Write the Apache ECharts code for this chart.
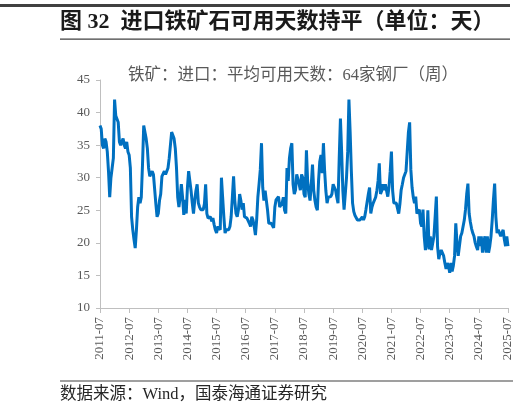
<!DOCTYPE html>
<html>
<head>
<meta charset="utf-8">
<script src="https://cdn.jsdelivr.net/npm/echarts@6/dist/echarts.min.js"></script>
<style>
  html, body { margin: 0; padding: 0; background: #fff; }
  #chart { width: 524px; height: 412px; }
</style>
</head>
<body>
<div id="chart"></div>
<script>
// 铁矿：进口：平均可用天数：64家钢厂（周），按半月读取，每组为当年7月至次年6月
const startYear = 2011;
const stepMonths = 0.5;
const y2011 = [38, 37.5, 35, 34.5, 36, 35.5, 34, 31, 27, 30, 31.5, 33, 42, 39.5, 39, 38.5, 35.5, 35, 35, 36, 35, 34.5, 35.5, 34];
const y2012 = [33.5, 31.5, 24, 22, 20.5, 19.2, 22, 25.5, 27, 26.1, 27, 32, 38, 37.8, 36, 34.5, 31.5, 30.2, 30.5, 31, 30.5, 30.2, 26, 24];
const y2013 = [24.5, 26.5, 27.5, 30.2, 30.2, 31, 30.5, 30.2, 31.5, 33, 35, 37, 37, 36, 34.5, 31.5, 27, 25.5, 27, 29, 27, 24.3, 26.6, 24.5];
const y2014 = [28.5, 31, 29.5, 28, 26.1, 24.5, 26.5, 28, 29, 26.1, 25.5, 25.1, 25.1, 25.1, 26, 29, 24.5, 23.8, 24, 24, 23.3, 23.8, 22.8, 22];
const y2015 = [21.5, 22.5, 22.3, 22, 30, 27, 24, 21.5, 22, 22, 22, 22.5, 24, 27, 30.2, 26.5, 24.5, 24, 25.1, 27.5, 26.5, 25.1, 26.1, 24];
const y2016 = [23.8, 23.8, 24, 23, 22.5, 24, 23.5, 22.5, 21.2, 23.5, 27, 29, 31.2, 35.3, 28.5, 26.5, 28, 26.5, 25, 23, 23, 23, 22.8, 22.3];
const y2017 = [25.5, 26.6, 26.8, 27.1, 25.5, 25.5, 26.1, 27, 25, 24.5, 31.5, 29.5, 33, 34.5, 35.3, 29, 27.5, 28.1, 30.5, 30.5, 29, 28.1, 30.5, 30];
const y2018 = [27.5, 27, 34.2, 29.5, 27.5, 26.5, 29, 32, 28.1, 26.5, 25.5, 25, 29.6, 32.5, 33.5, 30.7, 35.3, 31, 28, 26.1, 27, 27.1, 27.1, 27.5];
const y2019 = [29, 28.5, 28.1, 27, 26.1, 33, 39.1, 34, 28, 25.1, 27.5, 30, 34, 42, 37, 31, 26.1, 24.8, 24.2, 24, 23.5, 23.8, 23.5, 23.3];
const y2020 = [24, 23.5, 24, 25.1, 25.1, 27.5, 28.5, 24.5, 25.5, 26.1, 26.1, 27, 28, 29.5, 32.2, 27.5, 28, 29, 28.1, 29, 28, 27.1, 28.6, 31];
const y2021 = [34, 28, 26.1, 26.1, 26.1, 26.1, 24.5, 26, 28.1, 29, 30, 30.2, 31, 34, 37, 38.5, 31.2, 28.5, 27, 26.1, 27.1, 24.5, 24.5, 25.1];
const y2022 = [23, 22.5, 25.1, 21, 18.9, 20, 25, 19, 21, 18.9, 19, 21, 24, 27.1, 19.4, 17.5, 18.5, 18.9, 18.9, 18, 16.9, 16, 16.9, 16.5];
const y2023 = [15.4, 16.9, 15.6, 16.5, 18, 23, 20, 18, 19.5, 21, 21.5, 22.5, 23.5, 25.1, 27.5, 29.1, 24.5, 23.2, 22.2, 21.5, 21, 20, 19.4, 18.9];
const y2024 = [21, 19.5, 21, 18.5, 20, 21, 18.5, 21, 18.5, 19.5, 21, 23.5, 26.6, 29.1, 24, 21.5, 22, 22, 21, 21.5, 22, 20.5, 19.5, 21, 19.5];
const yTicks = [10, 15, 20, 25, 30, 35, 40, 45];

const seriesName = '铁矿：进口：平均可用天数：64家钢厂（周）';
const values = [].concat(y2011, y2012, y2013, y2014, y2015, y2016, y2017, y2018,
  y2019, y2020, y2021, y2022, y2023, y2024);
const points = values.map((v, i) => [i * stepMonths, v]);

const chart = echarts.init(document.getElementById('chart'));
const serif = '"Liberation Serif", "Times New Roman", serif';
const cjk = '"Liberation Serif", "Noto Sans CJK SC", sans-serif';

const option = {
  backgroundColor: '#fff',
  animation: false,
  grid: { left: 100, right: 16, top: 80, bottom: 104 },
  legend: {
    data: [seriesName],
    left: 117,
    top: 62,
    itemWidth: 0,
    itemHeight: 0,
    textStyle: { fontFamily: cjk, fontSize: 16.5, color: '#595959' }
  },
  xAxis: {
    type: 'value',
    min: 0,
    max: 168,
    interval: 12,
    axisLine: { lineStyle: { color: '#bfbfbf' } },
    axisTick: { show: true, length: 5, lineStyle: { color: '#bfbfbf' } },
    splitLine: { show: false },
    axisLabel: {
      rotate: 90,
      margin: 9,
      fontFamily: serif,
      fontSize: 13,
      color: '#595959',
      formatter: v => (startYear + v / 12) + '-07'
    }
  },
  yAxis: {
    type: 'value',
    min: yTicks[0],
    max: yTicks[yTicks.length - 1],
    interval: 5,
    axisLine: { show: true, lineStyle: { color: '#bfbfbf' } },
    axisTick: { show: true, length: 4, lineStyle: { color: '#bfbfbf' } },
    splitLine: { show: false },
    axisLabel: { margin: 10, fontFamily: serif, fontSize: 13, color: '#595959' }
  },
  series: [
    {
      name: seriesName,
      type: 'line',
      data: points,
      showSymbol: false,
      lineStyle: { width: 3, color: '#0070c0' },
      itemStyle: { color: '#0070c0' }
    }
  ],
  graphic: [
    { type: 'rect', shape: { x: 0, y: 4, width: 510, height: 3 }, style: { fill: '#404040' } },
    {
      type: 'text', left: 60, top: 11,
      style: {
        text: '图 32  进口铁矿石可用天数持平（单位：天）',
        font: 'bold 22px "Liberation Serif", "Noto Sans CJK SC", sans-serif',
        fill: '#1a1a1a'
      }
    },
    { type: 'rect', shape: { x: 60, y: 38.5, width: 450, height: 1.2 }, style: { fill: '#404040' } },
    { type: 'rect', shape: { x: 60, y: 380.5, width: 453, height: 1 }, style: { fill: '#404040' } },
    {
      type: 'text', left: 60, top: 386,
      style: {
        text: '数据来源：Wind，国泰海通证券研究',
        font: '16.5px "Liberation Serif", "Noto Sans CJK SC", sans-serif',
        fill: '#262626'
      }
    }
  ]
};
chart.setOption(option);
</script>
</body>
</html>
